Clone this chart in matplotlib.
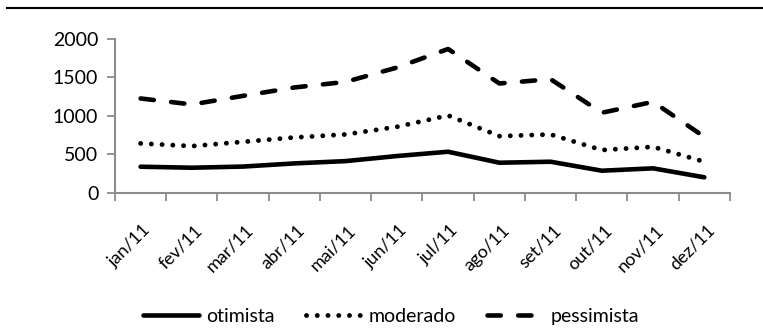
import numpy as np
import matplotlib.pyplot as plt
import matplotlib.transforms as mtransforms
from matplotlib.lines import Line2D

# === dados ===
meses = ['jan/11', 'fev/11', 'mar/11', 'abr/11', 'mai/11', 'jun/11',
         'jul/11', 'ago/11', 'set/11', 'out/11', 'nov/11', 'dez/11']
otimista = [338, 325, 340, 381, 411, 477, 533, 390, 403, 286, 317, 200]
moderado = [641, 606, 662, 719, 758, 857, 1005, 736, 758, 555, 597, 403]
pessimista = [1226, 1148, 1260, 1369, 1442, 1628, 1870, 1421, 1477, 1040, 1182, 727]

plt.rcParams['font.family'] = ['Lato', 'DejaVu Sans']
cinza = '#8c8c8c'
fs = 14

fig = plt.figure(figsize=(7.63, 3.29), dpi=100)
ax = fig.add_axes([0.1507, 0.4143, 0.806, 0.4672])

x = np.arange(len(meses))
ax.plot(x, otimista, color='black', lw=3.3, solid_capstyle='round',
        solid_joinstyle='round', label='otimista')
ax.plot(x, moderado, color='black', lw=3.5, dashes=(0.01, 2.2),
        dash_capstyle='round', label='moderado')
ax.plot(x, pessimista, color='black', lw=3.3, dashes=(2.9, 3.8),
        dash_capstyle='round', label='pessimista')

ax.set_xlim(-0.5, len(meses) - 0.5)
ax.set_ylim(0, 2000)
ax.set_yticks([0, 500, 1000, 1500, 2000])
ax.set_xticks(x)
ax.set_xticklabels(meses, rotation=45, ha='right', rotation_mode='anchor',
                   fontsize=13)
ax.set_xticks(np.arange(-0.5, len(meses)), minor=True)
ax.tick_params(axis='x', which='major', length=0, pad=21)
ax.tick_params(axis='x', which='minor', length=6, width=1.3, color=cinza)
ax.tick_params(axis='y', length=6, width=1.3, color=cinza, labelsize=fs, pad=6)

# desloca os rótulos do eixo x um pouco para a direita
desloc = mtransforms.ScaledTranslation(1.5 / 72, 0, fig.dpi_scale_trans)
for lbl in ax.get_xticklabels():
    lbl.set_transform(lbl.get_transform() + desloc)

for s in ['top', 'right']:
    ax.spines[s].set_visible(False)
for s in ['left', 'bottom']:
    ax.spines[s].set_color(cinza)
    ax.spines[s].set_linewidth(1.5)

# linha horizontal no topo
fig.add_artist(Line2D([0.009, 1.0], [0.975, 0.975], color='black', lw=1.5))

fig.legend(*ax.get_legend_handles_labels(), loc='center',
           bbox_to_anchor=(0.5125, 0.038), ncol=3, frameon=False,
           fontsize=fs, handlelength=2.9, columnspacing=1.6, handletextpad=0.35)

fig.savefig('out.png', dpi=100)
